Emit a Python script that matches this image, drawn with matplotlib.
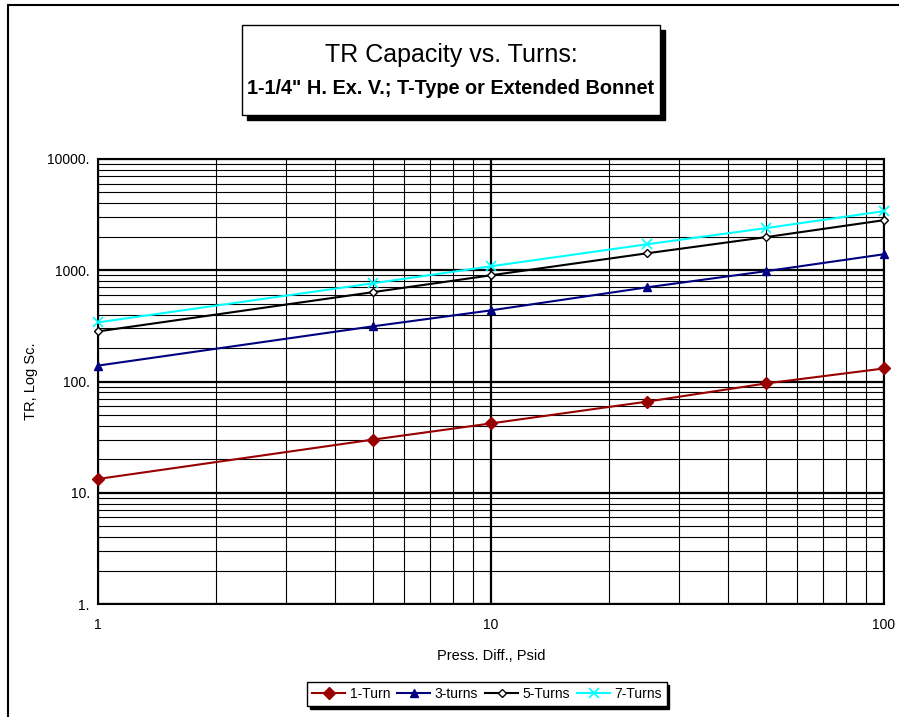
import numpy as np
import matplotlib.pyplot as plt
from matplotlib.patches import Rectangle
from matplotlib.ticker import FixedLocator, FuncFormatter, NullFormatter

plt.rcParams['font.family'] = ['Liberation Sans', 'DejaVu Sans']

# Datos
presion = [1, 5, 10, 25, 50, 100]
una_vuelta = [13.3, 30, 42, 66, 96, 131]
tres_vueltas = [139, 313, 436, 703, 980, 1393]
cinco_vueltas = [282, 635, 901, 1422, 1983, 2820]
siete_vueltas = [340, 763, 1086, 1714, 2390, 3400]

series = [
    ("1-Turn", una_vuelta, "#990000", "D", 6, "#990000"),
    ("3-turns", tres_vueltas, "#000080", "^", 6, "#000080"),
    ("5-Turns", cinco_vueltas, "#000000", "D", 4, "white"),
    ("7-Turns", siete_vueltas, "#00FFFF", "x", 7, "#00FFFF"),
]

fig = plt.figure(figsize=(8.99, 7.17), dpi=100)

# borde exterior del area del grafico
fig.patches.append(Rectangle((8 / 899, -0.05), 1.1, 1 - 5 / 717 + 0.05,
                             transform=fig.transFigure, fill=False,
                             edgecolor="black", linewidth=1.5))

ax = fig.add_axes([98 / 899, 1 - 604 / 717, (884 - 98) / 899, (604 - 159) / 717])

for nombre, valores, color, marcador, tam, relleno in series:
    ax.plot(presion, valores, color=color, linewidth=1.5, marker=marcador,
            markersize=tam, markerfacecolor=relleno, markeredgecolor=color,
            markeredgewidth=1.0 if marcador != "x" else 1.2, label=nombre,
            zorder=3, clip_on=False)

ax.set_xscale("log")
ax.set_yscale("log")
ax.set_xlim(1, 100)
ax.set_ylim(1, 10000)

ax.xaxis.set_major_locator(FixedLocator([1, 10, 100]))
ax.yaxis.set_major_locator(FixedLocator([1, 10, 100, 1000, 10000]))
menores = [m * 10 ** e for e in range(0, 4) for m in range(2, 10)]
ax.xaxis.set_minor_locator(FixedLocator([v for v in menores if v < 100]))
ax.yaxis.set_minor_locator(FixedLocator(menores))
ax.xaxis.set_major_formatter(FuncFormatter(lambda v, p: f"{v:g}"))
ax.yaxis.set_major_formatter(FuncFormatter(lambda v, p: f"{v:.0f}."))
ax.xaxis.set_minor_formatter(NullFormatter())
ax.yaxis.set_minor_formatter(NullFormatter())

ax.grid(which="major", color="black", linewidth=1.6)
ax.grid(which="minor", color="black", linewidth=0.8)
ax.tick_params(which="both", length=0, labelsize=10, pad=10)
ax.tick_params(axis="y", pad=6)
for lado in ax.spines.values():
    lado.set_linewidth(1.5)

ax.set_xlabel("Press. Diff., Psid", fontsize=10.5, labelpad=12)
ax.set_ylabel("TR, Log Sc.", fontsize=10.5)
ax.yaxis.set_label_coords((38 - 98) / 786, 0.5)

# caja del titulo con sombra
x0, y0, w, h = 242 / 899, 1 - 115 / 717, (660 - 242) / 899, (115 - 25) / 717
fig.patches.append(Rectangle((x0 + 5 / 899, y0 - 5 / 717), w, h,
                             transform=fig.transFigure, facecolor="black",
                             edgecolor="black"))
fig.patches.append(Rectangle((x0, y0), w, h, transform=fig.transFigure,
                             facecolor="white", edgecolor="black", linewidth=1))
fig.text(451 / 899, 1 - 55 / 717, "TR Capacity vs. Turns:", ha="center",
         va="center", fontsize=18)
fig.text(451 / 899, 1 - 89 / 717, '1-1/4" H. Ex. V.; T-Type or Extended Bonnet',
         ha="center", va="center", fontsize=14.3, fontweight="bold")

leg = fig.legend(loc="center", bbox_to_anchor=(487 / 899, 1 - 694 / 717),
                 ncol=4, frameon=True, fancybox=False, shadow={"color": "black", "alpha": 1},
                 fontsize=10, handlelength=2.4, columnspacing=0.5,
                 handletextpad=0.3, borderpad=0.35, borderaxespad=0)
leg.get_frame().set_edgecolor("black")
leg.get_frame().set_linewidth(1)

fig.savefig("out.png", dpi=100)
